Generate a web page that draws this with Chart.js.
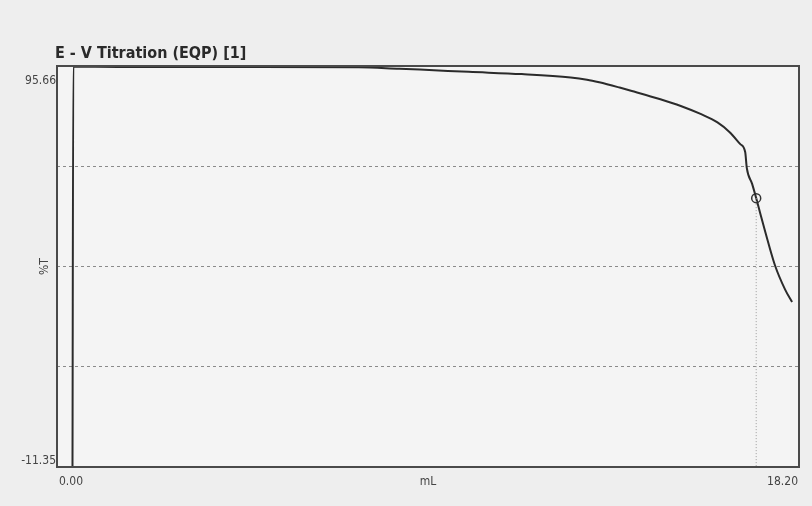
<!DOCTYPE html>
<html lang="en">
<head>
    <meta charset="UTF-8">
    <title>E - V Titration (EQP) [1]</title>
    <script src="https://cdn.jsdelivr.net/npm/chart.js"></script>
    <style>
        html, body { margin: 0; padding: 0; background: #eeeeee; }
    </style>
</head>
<body>
    <canvas id="titrationChart" width="812" height="506"></canvas>

    <script>
        // titration curve
        const volumeMl = [0.38, 0.40, 1.5, 3.0, 5.0, 7.4, 8.4, 8.9, 10.1, 11.4, 12.6, 13.0, 13.3, 13.8, 14.1, 14.8, 15.3, 15.8, 16.2, 16.5, 16.76, 16.88, 16.92, 17.05, 17.15, 17.25, 17.37, 17.61, 17.86, 18.03];
        const percentT = [-11.35, 95.5, 95.4, 95.4, 95.4, 95.3, 94.9, 94.7, 94.1, 93.5, 92.6, 92.0, 91.3, 89.9, 89.0, 86.8, 85.0, 82.8, 80.6, 78.0, 74.8, 72.7, 68.4, 64.2, 60.4, 56.3, 51.5, 42.5, 36.0, 32.7];

        // equivalence point
        const eqpMl = [17.15];
        const eqpPct = [60.4];

        const xMin = 0.00, xMax = 18.20;
        const yMin = -11.35, yMax = 95.66;
        const xTickLabels = ['0.00', '18.20'];
        const yTickLabels = ['-11.35', '95.66'];
        const titleText = 'E - V Titration (EQP) [1]';
        const xTitle = 'mL';
        const yTitle = '%T';

        const curve = volumeMl.map((v, i) => ({ x: v, y: percentT[i] }));
        const eqpPoint = eqpMl.map((v, i) => ({ x: v, y: eqpPct[i] }));
        const eqpDrop = [{ x: eqpMl[0], y: eqpPct[0] }, { x: eqpMl[0], y: yMin }];

        const FONT = '"DejaVu Sans Condensed", "Liberation Sans Narrow", sans-serif';

        // frame, title, end labels
        const framePlugin = {
            id: 'frame',
            beforeDraw(chart) {
                const { ctx, chartArea: a } = chart;
                ctx.save();
                ctx.fillStyle = '#eeeeee';
                ctx.fillRect(0, 0, chart.width, chart.height);
                ctx.fillStyle = '#f4f4f4';
                ctx.fillRect(a.left, a.top, a.right - a.left, a.bottom - a.top);
                ctx.restore();
            },
            afterDraw(chart) {
                const { ctx, chartArea: a, scales } = chart;
                ctx.save();
                ctx.strokeStyle = '#4a4a4a';
                ctx.lineWidth = 2;
                ctx.strokeRect(a.left, a.top, a.right - a.left, a.bottom - a.top);

                ctx.fillStyle = '#2a2a2a';
                ctx.font = 'bold 16px ' + FONT;
                ctx.textAlign = 'left';
                ctx.textBaseline = 'bottom';
                ctx.fillText(titleText, a.left - 2, a.top - 4);

                ctx.fillStyle = '#444';
                ctx.font = '12px ' + FONT;
                // y end labels
                ctx.textAlign = 'right';
                ctx.textBaseline = 'top';
                ctx.fillText(yTickLabels[1], a.left - 1, scales.y.getPixelForValue(yMax) + 9);
                ctx.textBaseline = 'bottom';
                ctx.fillText(yTickLabels[0], a.left - 1, scales.y.getPixelForValue(yMin));
                // x end labels
                ctx.textBaseline = 'top';
                ctx.textAlign = 'left';
                ctx.fillText(xTickLabels[0], scales.x.getPixelForValue(xMin) + 2, a.bottom + 9);
                ctx.textAlign = 'right';
                ctx.fillText(xTickLabels[1], scales.x.getPixelForValue(xMax) - 1, a.bottom + 9);
                // axis titles
                ctx.textAlign = 'center';
                ctx.fillText(xTitle, (a.left + a.right) / 2, a.bottom + 9);
                ctx.translate(a.left - 12, (a.top + a.bottom) / 2);
                ctx.rotate(-Math.PI / 2);
                ctx.textBaseline = 'middle';
                ctx.fillText(yTitle, 0, 0);
                ctx.restore();
            }
        };

        const ctx = document.getElementById('titrationChart').getContext('2d');
        new Chart(ctx, {
            type: 'scatter',
            data: {
                datasets: [
                    {
                        label: 'EQP drop',
                        data: eqpDrop,
                        showLine: true,
                        borderColor: '#9a9a9a',
                        borderWidth: 1,
                        borderDash: [1, 2],
                        pointRadius: 0
                    },
                    {
                        label: '%T',
                        data: curve,
                        showLine: true,
                        borderColor: '#2b2b2b',
                        borderWidth: 2,
                        cubicInterpolationMode: 'monotone',
                        pointRadius: 0
                    },
                    {
                        label: 'EQP',
                        data: eqpPoint,
                        pointRadius: 4.5,
                        pointBorderWidth: 1.5,
                        pointBorderColor: '#333',
                        pointBackgroundColor: 'rgba(0,0,0,0)'
                    }
                ]
            },
            options: {
                responsive: false,
                animation: false,
                layout: { padding: { left: 57, right: 13, top: 66, bottom: 31 } },
                plugins: {
                    legend: { display: false },
                    tooltip: { enabled: false }
                },
                scales: {
                    x: {
                        type: 'linear',
                        min: xMin,
                        max: xMax,
                        grid: { display: false },
                        border: { display: false },
                        ticks: { display: false }
                    },
                    y: {
                        min: yMin,
                        max: yMax,
                        afterBuildTicks(scale) {
                            const step = (yMax - yMin) / 4;
                            scale.ticks = [0, 1, 2, 3, 4].map(i => ({ value: yMin + i * step }));
                        },
                        grid: {
                            color: '#8a8a8a',
                            lineWidth: 1,
                            drawTicks: false
                        },
                        border: { display: false, dash: [3, 3] },
                        ticks: { display: false }
                    }
                }
            },
            plugins: [framePlugin]
        });
    </script>
</body>
</html>
